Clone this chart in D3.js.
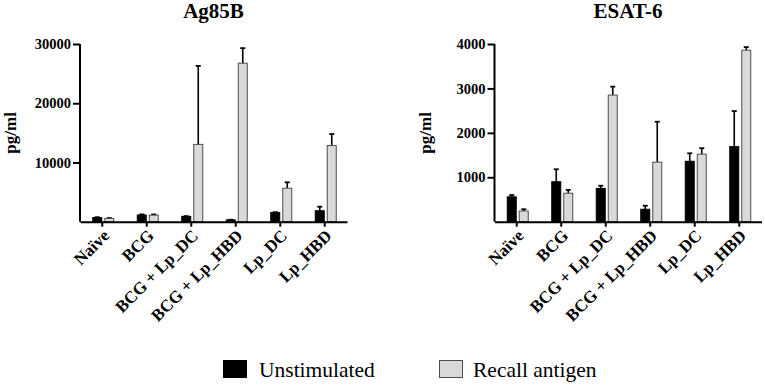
<!DOCTYPE html>
<html>
<head>
<meta charset="utf-8">
<script src="https://cdn.jsdelivr.net/npm/d3@7"></script>
<style>
  body { margin: 0; background: #fff; }
</style>
</head>
<body>
<svg id="chart"></svg>
<script>
const groups = ["Naïve", "BCG", "BCG + Lp_DC", "BCG + Lp_HBD", "Lp_DC", "Lp_HBD"];

// Ag85B, pg/ml (mean and upper error)
const ag85bUnstim = [700, 1130, 900, 300, 1550, 1850];
const ag85bUnstimErr = [60, 100, 40, 30, 60, 680];
const ag85bRecall = [550, 1100, 13050, 26750, 5650, 12850];
const ag85bRecallErr = [60, 120, 13250, 2550, 1000, 1950];

// ESAT-6, pg/ml
const esatUnstim = [560, 900, 750, 280, 1360, 1690];
const esatUnstimErr = [40, 280, 60, 80, 180, 800];
const esatRecall = [240, 640, 2850, 1340, 1520, 3860];
const esatRecallErr = [40, 75, 190, 910, 135, 70];

const ag85bTicks = [10000, 20000, 30000];
const esatTicks = [1000, 2000, 3000, 4000];

const seriesNames = ["Unstimulated", "Recall antigen"];
const seriesFill = ["#000000", "#d9d9d9"];
const seriesStroke = ["#000000", "#4d4d4d"];

const FONT = '"Liberation Serif", "Times New Roman", Times, serif';
const width = 765, height = 385;
const plotTop = 44, plotBottom = 221.7, plotWidth = 267;
const barW = 10, barGap = 2;

const svg = d3.select("#chart")
    .attr("width", width)
    .attr("height", height)
    .attr("font-family", FONT);

function drawPanel(left, title, yMax, ticks, unstim, unstimErr, recall, recallErr) {
    const g = svg.append("g");

    const x = d3.scaleBand()
        .domain(groups)
        .range([left, left + plotWidth]);

    const y = d3.scaleLinear()
        .domain([0, yMax])
        .range([plotBottom, plotTop]);

    const rows = groups.map((name, i) => ({
        name,
        values: [
            {v: unstim[i], e: unstimErr[i], s: 0},
            {v: recall[i], e: recallErr[i], s: 1}
        ]
    }));

    const cell = g.selectAll(".grp")
        .data(rows)
        .join("g")
        .attr("class", "grp")
        .attr("transform", d => `translate(${x(d.name) + x.bandwidth() / 2}, 0)`);

    const bx = s => s === 0 ? -barW : barGap;

    // error bars, upward only
    cell.selectAll("g.err")
        .data(d => d.values)
        .join("g")
        .attr("class", "err")
        .each(function (d) {
            const e = d3.select(this);
            const cx = bx(d.s) + barW / 2;
            e.append("line")
                .attr("x1", cx).attr("x2", cx)
                .attr("y1", y(d.v)).attr("y2", y(d.v + d.e))
                .attr("stroke", "#000").attr("stroke-width", 1.6);
            e.append("line")
                .attr("x1", cx - 2.5).attr("x2", cx + 2.5)
                .attr("y1", y(d.v + d.e)).attr("y2", y(d.v + d.e))
                .attr("stroke", "#000").attr("stroke-width", 1.8);
        });

    cell.selectAll("rect")
        .data(d => d.values)
        .join("rect")
        .attr("x", d => bx(d.s) + 0.5)
        .attr("width", barW - 1)
        .attr("y", d => y(d.v))
        .attr("height", d => plotBottom - y(d.v))
        .attr("fill", d => seriesFill[d.s])
        .attr("stroke", d => seriesStroke[d.s])
        .attr("stroke-width", 1);

    // axes
    const yAxis = g.append("g")
        .attr("transform", `translate(${left}, 0)`)
        .call(d3.axisLeft(y).tickValues(ticks).tickSize(7).tickSizeOuter(0).tickFormat(d3.format("d")));
    yAxis.select(".domain")
        .attr("d", `M0,${plotBottom}V${plotTop}`);

    const xAxis = g.append("g")
        .attr("transform", `translate(0, ${plotBottom})`)
        .call(d3.axisBottom(x).tickSize(5).tickSizeOuter(0));

    [yAxis, xAxis].forEach(a => {
        a.attr("font-family", FONT);
        a.selectAll("path, line").attr("stroke", "#000").attr("stroke-width", 2);
    });

    yAxis.selectAll("text")
        .attr("x", -9)
        .attr("font-family", FONT)
        .style("font-size", "14.5px")
        .style("font-weight", "bold")
        .attr("fill", "#000");

    xAxis.selectAll("text")
        .attr("y", 0).attr("dy", 0)
        .attr("text-anchor", "end")
        .attr("transform", "translate(8, 15) rotate(-45)")
        .attr("font-family", FONT)
        .style("font-size", "17px")
        .style("font-weight", "bold")
        .attr("fill", "#000");

    g.append("text")
        .attr("x", left + plotWidth / 2)
        .attr("y", 18)
        .attr("text-anchor", "middle")
        .style("font-size", "21px")
        .style("font-weight", "bold")
        .text(title);

    g.append("text")
        .attr("transform", `translate(${left - 64}, ${(plotTop + plotBottom) / 2}) rotate(-90)`)
        .attr("text-anchor", "middle")
        .style("font-size", "17px")
        .style("font-weight", "bold")
        .text("pg/ml");
}

drawPanel(80, "Ag85B", 30000, ag85bTicks, ag85bUnstim, ag85bUnstimErr, ag85bRecall, ag85bRecallErr);
drawPanel(494.5, "ESAT-6", 4000, esatTicks, esatUnstim, esatUnstimErr, esatRecall, esatRecallErr);

// legend
const legendX = [223, 439];
const legend = svg.append("g")
    .selectAll("g")
    .data(seriesNames)
    .join("g")
    .attr("transform", (d, i) => `translate(${legendX[i]}, 360)`);

legend.append("rect")
    .attr("x", 0.5).attr("y", 0.5)
    .attr("width", 23).attr("height", 17)
    .attr("fill", (d, i) => seriesFill[i])
    .attr("stroke", (d, i) => seriesStroke[i]);

legend.append("text")
    .attr("x", (d, i) => i === 0 ? 36 : 34)
    .attr("y", 17)
    .style("font-size", "21.5px")
    .text(d => d);
</script>
</body>
</html>
